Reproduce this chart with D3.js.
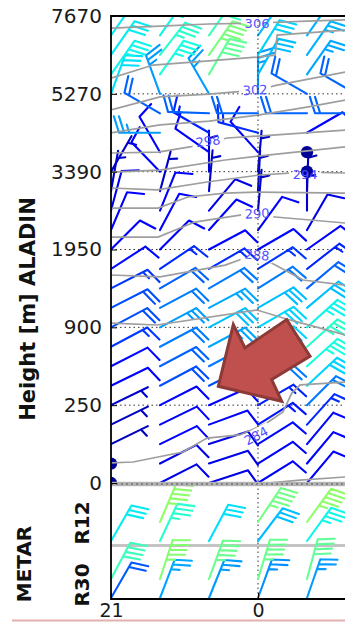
<!DOCTYPE html>
<html>
<head>
<meta charset="utf-8">
<script src="https://cdn.jsdelivr.net/npm/d3@7/dist/d3.min.js"></script>
<style>
html,body{margin:0;padding:0;background:#fff;}
svg{display:block;}
text{font-family:"DejaVu Sans",sans-serif;}
</style>
</head>
<body>
<svg id="chart" width="345" height="623"></svg>
<script>
// ---- time axis (UTC hours) and model levels ----
const hours = [21, 22, 23, 0, 1, 2];
const labelledHourIdx = [0, 3];
const heightLabels = [0, 250, 900, 1950, 3390, 5270, 7670];
const levelsPerLabel = 4;
const levelCount = 25;

// ALADIN wind: direction the wind blows from (deg) and speed (kt); rows = model level 0..24, columns = hours
const windDir = [
  [64, 63, 72, 58, 40, 40],
  [64, 63, 72, 58, 40, 40],
  [64, 64, 72, 58, 40, 40],
  [64, 64, 70, 58, 42, 42],
  [64, 63, 66, 60, 45, 45],
  [64, 62, 63, 60, 47, 47],
  [63, 62, 62, 60, 48, 48],
  [62, 62, 62, 60, 48, 48],
  [62, 62, 62, 60, 48, 48],
  [63, 62, 62, 60, 50, 50],
  [63, 60, 60, 58, 50, 50],
  [57, 56, 60, 58, 52, 52],
  [45, 45, 62, 60, 55, 55],
  [23, 28, 42, 36, 30, 30],
  [15, 22, 40, 5, 0, 0],
  [10, 15, 5, 3, 2, 2],
  [30, 316, 0, 5, 0, 0],
  [320, 330, 305, 318, 0, 0],
  [290, 270, 300, 285, 60, 60],
  [270, 300, 272, 270, 270, 270],
  [20, 340, 330, 0, 300, 300],
  [35, 35, 30, 30, 35, 35],
  [35, 38, 35, 32, 35, 35],
  [35, 35, 35, 35, 35, 35],
  [35, 35, 35, 35, 35, 35]
];
const windSpeed = [
  [2, 8, 8, 10, 10, 10],
  [2, 8, 8, 10, 10, 10],
  [5, 10, 8, 12, 12, 12],
  [5, 10, 10, 13, 15, 15],
  [6, 10, 10, 14, 22, 22],
  [10, 18, 18, 22, 30, 30],
  [12, 20, 22, 26, 34, 34],
  [16, 22, 26, 30, 36, 36],
  [18, 25, 28, 30, 33, 33],
  [18, 22, 26, 28, 28, 28],
  [16, 20, 22, 22, 20, 20],
  [12, 15, 15, 16, 14, 14],
  [10, 10, 10, 12, 10, 10],
  [10, 10, 10, 10, 8, 8],
  [8, 10, 8, 6, 6, 6],
  [6, 6, 6, 6, 5, 5],
  [6, 10, 6, 6, 2, 2],
  [10, 10, 10, 10, 2, 2],
  [15, 25, 14, 15, 10, 10],
  [25, 20, 20, 20, 20, 20],
  [31, 25, 25, 25, 20, 20],
  [33, 34, 42, 28, 26, 26],
  [32, 36, 45, 30, 27, 27],
  [32, 33, 38, 28, 27, 27],
  [32, 32, 35, 28, 27, 27]
];

// METAR runway winds (mean and gust), per hour
const runways = ["R30", "R12"];
const r12Dir = [30, 25, 28, 37, 36, 36];
const r12Speed = [32, 36, 31, 28, 33, 33];
const r12GustDir = [null, 23, null, 34, 36, 36];
const r12Gust = [null, 47, null, 44, 47, 47];
const r30Dir = [30, 21, 22, 20, 19, 19];
const r30Speed = [19, 26, 25, 24, 25, 25];
const r30GustDir = [28, 18, 20, 17, 15, 15];
const r30Gust = [38, 46, 43, 43, 42, 42];

// potential temperature isolines (K): [hour index, model level] pairs
const thetaValues = [306, 304, 302, 300, 298, 296, 294, 292, 290, 288, 286, 284, 282];
const thetaLines = [
  [[0,23.38],[1,23.48],[2,23.59],[3,23.64],[4,23.74],[5,23.82]],
  [[0,20.81],[0.86,21.48],[2,21.69],[2.98,21.89],[3.35,21.99],[3.39,23.02],[4.78,23.28],[5,23.3]],
  [[0,19.17],[1,19.84],[2,19.99],[3,20.2],[3.39,20.45],[4.78,21.12],[5,21.2]],
  [[0,17.99],[1,18.4],[2,18.6],[3,18.91],[4,19.32],[4.78,19.68],[5,19.75]],
  [[0,16.96],[0.96,17.0],[1.61,17.27],[2.37,17.73],[3,17.83],[4.78,18.14],[5,18.2]],
  [[0,15.98],[1,16.08],[2.33,16.6],[3,16.8],[4.78,17.27],[5,17.3]],
  [[0,15.16],[0.94,15.06],[1.96,15.47],[3.04,15.83],[3.96,15.98],[4.78,15.93],[5,15.9]],
  [[0,14.13],[0.96,14.13],[1.57,14.7],[2.33,14.9],[3,14.95],[4.78,14.9],[5,14.9]],
  [[0,12.64],[0.96,12.64],[1.71,13.41],[2.73,13.8],[3.35,13.67],[4.78,13.36],[5,13.3]],
  [[0,10.69],[1,10.59],[2.33,11.2],[2.73,11.56],[3.24,11.36],[3.92,10.43],[4.78,10.17],[5,10.1]],
  [[0,8.22],[0.94,8.12],[2.98,8.89],[3.65,8.38],[4.78,7.61],[5,7.5]],
  [[0,1.03],[0.45,1.08],[1.47,1.59],[1.96,2.31],[2.63,2.47],[3.18,3.08],[3.51,3.65],[3.69,4.62],[3.86,5.04],[4.78,5.19],[5,5.2]],
  [[3,-0.05],[3.86,0.15],[4.78,0.31],[5,0.35]]
];
const thetaLabelText = [306, 302, 298, 294, 290, 288, 284];
const thetaLabelT = [2.98, 2.94, 1.98, 3.96, 2.98, 2.98, 2.96];
const thetaLabelLevel = [23.64, 20.2, 17.57, 15.88, 13.85, 11.72, 2.42];
const thetaLabelAngle = [0, -3, -8, 0, -3, 5, -28];

// ---- layout ----
const svg = d3.select("#chart");
const plotLeft = 111, plotRight = 345, plotTop = 16, plotBottom = 483;
const metarTop = 486, metarBottom = 599;

const x = d3.scaleLinear().domain([0, hours.length - 1]).range([plotLeft, plotLeft + 49 * (hours.length - 1)]);
const y = d3.scaleLinear().domain([0, levelCount - 1]).range([plotBottom, plotTop]);
// METAR slots: 0 R30 mean, 1 R30 gust, 3 R12 mean, 4 R12 gust
const metarY = d3.scaleLinear().domain([0, 4]).range([598, 522]);

// jet colour map for wind speed
const jetR = d3.scaleLinear().domain([0, 0.35, 0.66, 0.89, 1]).range([0, 0, 1, 1, 0.5]).clamp(true);
const jetG = d3.scaleLinear().domain([0, 0.125, 0.375, 0.64, 0.91, 1]).range([0, 0, 1, 1, 0, 0]).clamp(true);
const jetB = d3.scaleLinear().domain([0, 0.11, 0.34, 0.65, 1]).range([0.5, 1, 1, 0, 0]).clamp(true);
const speedNorm = d3.scaleLinear().domain([0, 90]).clamp(true);
const speedColor = s => { const t = speedNorm(s); return d3.rgb(jetR(t) * 255, jetG(t) * 255, jetB(t) * 255).formatHex(); };

// wind barb geometry in a local frame: +x along the staff, +y towards the feathers
const L = 41, sp = L * 0.125, fh = L * 0.4, fw = L * 0.25, emptyR = L * 0.15;
function barbGeometry(speed) {
  const r = Math.round(speed / 5) * 5;
  const nFlags = Math.floor(r / 50);
  const nBarbs = Math.floor((r % 50) / 10);
  const half = (r % 10) >= 5;
  if (!nFlags && !nBarbs && !half) return { calm: true };
  let d = `M0,0L${L},0`, flags = "", off = L;
  for (let i = 0; i < nFlags; i++) {
    if (off !== L) off += sp / 2;
    flags += `M${off},0L${off - fw / 2},${fh}L${off - fw},0Z`;
    off -= fw + sp;
  }
  for (let i = 0; i < nBarbs; i++) { d += `M${off},0L${off + fw / 2},${fh}`; off -= sp; }
  if (half) { if (off === L) off -= 1.5 * sp; d += `M${off},0L${off + fw / 4},${fh / 2}`; }
  return { d, flags };
}

function drawBarbs(g, items) {
  const sel = g.selectAll("g.barb").data(items).join("g").attr("class", "barb");
  sel.each(function (it) {
    const gg = d3.select(this);
    const col = speedColor(it.speed);
    const geo = barbGeometry(it.speed);
    if (geo.calm) {
      gg.append("circle").attr("cx", it.x).attr("cy", it.y).attr("r", emptyR).attr("fill", col);
    } else {
      gg.attr("transform", `translate(${it.x},${it.y}) rotate(${it.dir - 90})`);
      gg.append("path").attr("d", geo.d).attr("fill", "none").attr("stroke", col)
        .attr("stroke-width", 2.1).attr("stroke-linecap", "round").attr("stroke-linejoin", "round");
      if (geo.flags) gg.append("path").attr("d", geo.flags).attr("fill", col);
    }
  });
}

const defs = svg.append("defs");
defs.append("clipPath").attr("id", "clipMain").append("rect")
  .attr("x", plotLeft).attr("y", plotTop).attr("width", 300).attr("height", plotBottom - plotTop);
defs.append("clipPath").attr("id", "clipMetar").append("rect")
  .attr("x", plotLeft).attr("y", metarTop).attr("width", 300).attr("height", metarBottom - metarTop);

// gaps in isolines under their labels
const mask = defs.append("mask").attr("id", "labelGaps").attr("maskUnits", "userSpaceOnUse")
  .attr("x", 0).attr("y", 0).attr("width", 345).attr("height", 623);
mask.append("rect").attr("width", 345).attr("height", 623).attr("fill", "#fff");
thetaLabelText.forEach((t, i) => {
  mask.append("rect").attr("x", -16).attr("y", -7).attr("width", 32).attr("height", 14).attr("fill", "#000")
    .attr("transform", `translate(${x(thetaLabelT[i])},${y(thetaLabelLevel[i])}) rotate(${thetaLabelAngle[i]})`);
});

// ---- main (ALADIN) panel ----
const main = svg.append("g").attr("clip-path", "url(#clipMain)");

// dotted grid
const gridLevels = d3.range(levelsPerLabel, levelCount - 1, levelsPerLabel);
main.append("g").selectAll("line").data(gridLevels).join("line")
  .attr("x1", plotLeft).attr("x2", plotRight).attr("y1", d => y(d)).attr("y2", d => y(d))
  .attr("stroke", "#333").attr("stroke-width", 1).attr("stroke-dasharray", "1.5,3");
svg.append("line").attr("x1", x(3)).attr("x2", x(3)).attr("y1", plotTop).attr("y2", metarBottom)
  .attr("stroke", "#333").attr("stroke-width", 1).attr("stroke-dasharray", "1.5,3");

const aladinItems = [];
windSpeed.forEach((row, k) => row.forEach((s, c) => {
  aladinItems.push({ x: x(c), y: y(k), dir: windDir[k][c], speed: s });
}));
drawBarbs(main.append("g"), aladinItems);

// isolines
const isoLine = d3.line().x(d => x(d[0])).y(d => y(d[1]));
main.append("g").attr("mask", "url(#labelGaps)").selectAll("path").data(thetaLines).join("path")
  .attr("d", isoLine).attr("fill", "none").attr("stroke", "#9e9e9e").attr("stroke-width", 1.7);
main.append("g").selectAll("text").data(thetaLabelText).join("text")
  .attr("transform", (d, i) => `translate(${x(thetaLabelT[i])},${y(thetaLabelLevel[i])}) rotate(${thetaLabelAngle[i]})`)
  .attr("text-anchor", "middle").attr("dy", "0.36em")
  .attr("font-size", 13).attr("fill", "#5050ff").text(d => d);

// ---- METAR panel ----
const metar = svg.append("g").attr("clip-path", "url(#clipMetar)");
const metarItems = [];
hours.forEach((h, c) => {
  metarItems.push({ x: x(c), y: metarY(0), dir: r30Dir[c], speed: r30Speed[c] });
  metarItems.push({ x: x(c), y: metarY(1), dir: r30GustDir[c], speed: r30Gust[c] });
  metarItems.push({ x: x(c), y: metarY(3), dir: r12Dir[c], speed: r12Speed[c] });
  if (r12Gust[c] !== null) metarItems.push({ x: x(c), y: metarY(4), dir: r12GustDir[c], speed: r12Gust[c] });
});
metar.append("line").attr("x1", plotLeft).attr("x2", plotRight).attr("y1", 545.5).attr("y2", 545.5)
  .attr("stroke", "#c4c4c4").attr("stroke-width", 3.2);
drawBarbs(metar.append("g"), metarItems);

// ---- frames and axes ----
svg.append("rect").attr("x", plotLeft).attr("y", 481.8).attr("width", plotRight - plotLeft).attr("height", 4.4).attr("fill", "#b3b3b3");
svg.append("line").attr("x1", plotLeft).attr("x2", plotRight).attr("y1", 484).attr("y2", 484)
  .attr("stroke", "#555").attr("stroke-width", 1.2).attr("stroke-dasharray", "2,3");
svg.append("line").attr("x1", plotLeft).attr("x2", plotRight).attr("y1", plotTop).attr("y2", plotTop).attr("stroke", "#000").attr("stroke-width", 1.8);
svg.append("line").attr("x1", plotLeft).attr("x2", plotRight).attr("y1", metarBottom).attr("y2", metarBottom).attr("stroke", "#000").attr("stroke-width", 1.8);
svg.append("line").attr("x1", plotLeft).attr("x2", plotLeft).attr("y1", plotTop - 0.9).attr("y2", metarBottom + 0.9).attr("stroke", "#000").attr("stroke-width", 1.8);

const yAxis = d3.axisLeft(y).tickValues(d3.range(0, levelCount, levelsPerLabel))
  .tickFormat(i => heightLabels[i / levelsPerLabel]).tickSizeInner(-6).tickSizeOuter(0).tickPadding(9);
const yg = svg.append("g").attr("transform", `translate(${plotLeft},0)`).call(yAxis);
yg.select(".domain").remove();
yg.selectAll("text").attr("font-size", 20).attr("font-family", "DejaVu Sans, sans-serif").attr("fill", "#1a1a1a");
yg.selectAll("line").attr("stroke", "#000");

const xAxis = d3.axisBottom(x).tickValues(labelledHourIdx).tickFormat(i => hours[i])
  .tickSizeInner(-6).tickSizeOuter(0).tickPadding(4);
const xg = svg.append("g").attr("transform", `translate(0,${metarBottom})`).call(xAxis);
xg.select(".domain").remove();
xg.selectAll("text").attr("font-size", 19).attr("font-family", "DejaVu Sans, sans-serif").attr("fill", "#1a1a1a");

// axis titles
svg.append("text").attr("transform", "translate(35,309) rotate(-90)").attr("text-anchor", "middle")
  .attr("font-size", 21).attr("font-weight", "bold").attr("fill", "#111").text("Height [m] ALADIN");
svg.append("text").attr("transform", "translate(31,564) rotate(-90)").attr("text-anchor", "middle")
  .attr("font-size", 20).attr("font-weight", "bold").attr("fill", "#111").text("METAR");
const runwayCentre = [585, 523];
svg.append("g").selectAll("text").data(runways).join("text")
  .attr("transform", (d, i) => `translate(89,${runwayCentre[i]}) rotate(-90)`).attr("text-anchor", "middle")
  .attr("font-size", 20).attr("font-weight", "bold").attr("fill", "#111").text(d => d);

// highlight arrow
const arrowShape = [[0, 0], [15, -61.7], [26.7, -38.4], [68.4, -66.7], [91.7, -30], [53.4, -6.7], [63.4, 15]];
svg.append("path").attr("transform", `translate(${x(2.19)},${y(4.97)})`)
  .attr("d", d3.line()(arrowShape) + "Z")
  .attr("fill", "#c0504d").attr("stroke", "#8c3a37").attr("stroke-width", 3).attr("stroke-linejoin", "miter");

// page edge
svg.append("line").attr("x1", 12).attr("x2", 345).attr("y1", 620.5).attr("y2", 620.5).attr("stroke", "#e3b1b0").attr("stroke-width", 2);
</script>
</body>
</html>
